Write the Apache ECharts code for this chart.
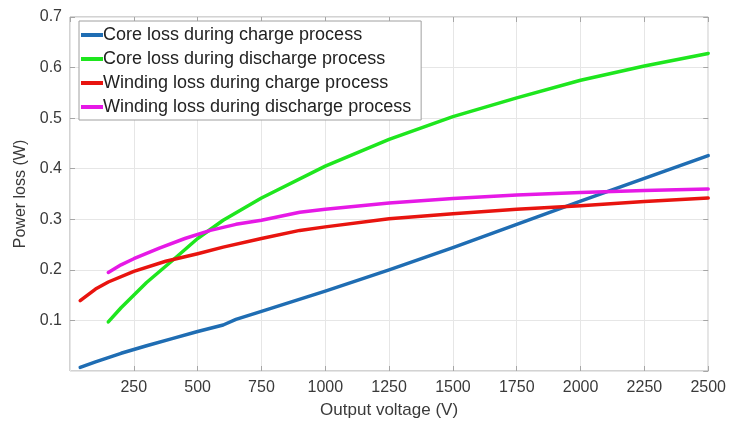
<!DOCTYPE html>
<html>
<head>
<meta charset="utf-8">
<script src="https://cdn.jsdelivr.net/npm/echarts@6/dist/echarts.min.js"></script>
<style>
  html, body { margin: 0; padding: 0; background: #fff; }
  #chart { width: 729px; height: 424px; }
</style>
</head>
<body>
<div id="chart"></div>
<script>
// Output voltage (V) vs. power loss (W) for core and winding losses
const seriesNames = [
  'Core loss during charge process',
  'Core loss during discharge process',
  'Winding loss during charge process',
  'Winding loss during discharge process'
];

const coreChargeV    = [40, 100, 200, 300, 400, 500, 600, 650, 750, 1000, 1250, 1500, 1750, 2000, 2250, 2500];
const coreChargeP    = [0.007, 0.018, 0.035, 0.050, 0.064, 0.078, 0.091, 0.102, 0.118, 0.158, 0.200, 0.244, 0.290, 0.336, 0.381, 0.426];

const coreDischargeV = [150, 200, 300, 400, 500, 600, 750, 1000, 1250, 1500, 1750, 2000, 2250, 2500];
const coreDischargeP = [0.097, 0.125, 0.175, 0.218, 0.262, 0.298, 0.342, 0.405, 0.458, 0.503, 0.540, 0.575, 0.603, 0.628];

const windChargeV    = [40, 100, 150, 250, 375, 500, 600, 750, 900, 1000, 1250, 1500, 1750, 2000, 2250, 2500];
const windChargeP    = [0.139, 0.162, 0.176, 0.197, 0.217, 0.232, 0.245, 0.262, 0.278, 0.285, 0.301, 0.311, 0.320, 0.327, 0.335, 0.342];

const windDischargeV = [150, 200, 250, 350, 450, 550, 650, 750, 900, 1000, 1250, 1500, 1750, 2000, 2250, 2500];
const windDischargeP = [0.195, 0.210, 0.222, 0.243, 0.262, 0.278, 0.290, 0.298, 0.314, 0.320, 0.332, 0.341, 0.348, 0.353, 0.357, 0.360];

const seriesColors = ['#1f6db3', '#1ee61e', '#e8140f', '#e619e6'];

const xs = [coreChargeV, coreDischargeV, windChargeV, windDischargeV];
const ys = [coreChargeP, coreDischargeP, windChargeP, windDischargeP];

const pair = (a, b) => a.map((v, i) => [v, b[i]]);

const fontFamily = '"Liberation Sans", Arial, sans-serif';
const gridColor = '#e6e6e6';
const axisColor = '#a6a6a6';
const labelColor = '#3a3a3a';

// box edges come from the grid border; axes only add inward ticks
const edgeLine = { show: false, onZero: false };
const inTick = { show: true, inside: true, length: 5, lineStyle: { color: axisColor } };

const chart = echarts.init(document.getElementById('chart'), null, { renderer: 'canvas' });

chart.setOption({
  animation: false,
  backgroundColor: '#ffffff',
  grid: {
    left: 70, right: 20, top: 17, bottom: 53, containLabel: false,
    show: true, borderColor: axisColor, borderWidth: 1, backgroundColor: 'transparent'
  },
  legend: {
    orient: 'vertical',
    left: 79,
    top: 21,
    padding: [5, 10, 4, 2],
    itemGap: 6,
    itemWidth: 22,
    itemHeight: 4,
    icon: 'rect',
    backgroundColor: '#ffffff',
    borderColor: '#a0a0a0',
    borderWidth: 1,
    borderRadius: 0,
    textStyle: { fontFamily, fontSize: 18, color: '#222', padding: [0, 0, 0, -5] },
    data: seriesNames
  },
  xAxis: [
    {
      type: 'value', position: 'bottom', min: 0, max: 2500, interval: 250,
      name: 'Output voltage (V)', nameLocation: 'middle', nameGap: 31,
      nameTextStyle: { fontFamily, fontSize: 17, color: labelColor },
      axisLine: edgeLine,
      axisTick: inTick,
      axisLabel: { fontFamily, fontSize: 16, color: labelColor, margin: 9, showMinLabel: false,
        formatter: v => String(v) },
      splitLine: { show: true, lineStyle: { color: gridColor, width: 1 } }
    },
    {
      type: 'value', position: 'top', min: 0, max: 2500, interval: 250,
      axisLine: edgeLine,
      axisTick: inTick,
      axisLabel: { show: false },
      splitLine: { show: false }
    }
  ],
  yAxis: [
    {
      type: 'value', position: 'left', min: 0, max: 0.7, interval: 0.1,
      name: 'Power loss (W)', nameLocation: 'middle', nameGap: 40,
      nameTextStyle: { fontFamily, fontSize: 16, color: labelColor },
      axisLine: edgeLine,
      axisTick: inTick,
      axisLabel: { fontFamily, fontSize: 16, color: labelColor, margin: 8, showMinLabel: false,
        formatter: v => v.toFixed(1) },
      splitLine: { show: true, lineStyle: { color: gridColor, width: 1 } }
    },
    {
      type: 'value', position: 'right', min: 0, max: 0.7, interval: 0.1,
      axisLine: edgeLine,
      axisTick: inTick,
      axisLabel: { show: false },
      splitLine: { show: false }
    }
  ],
  series: seriesNames.map((name, i) => ({
    name,
    type: 'line',
    xAxisIndex: 0,
    yAxisIndex: 0,
    data: pair(xs[i], ys[i]),
    showSymbol: false,
    smooth: false,
    lineStyle: { color: seriesColors[i], width: 3.5, join: 'round', cap: 'round' },
    itemStyle: { color: seriesColors[i] },
    z: 2 + i
  }))
});
</script>
</body>
</html>
